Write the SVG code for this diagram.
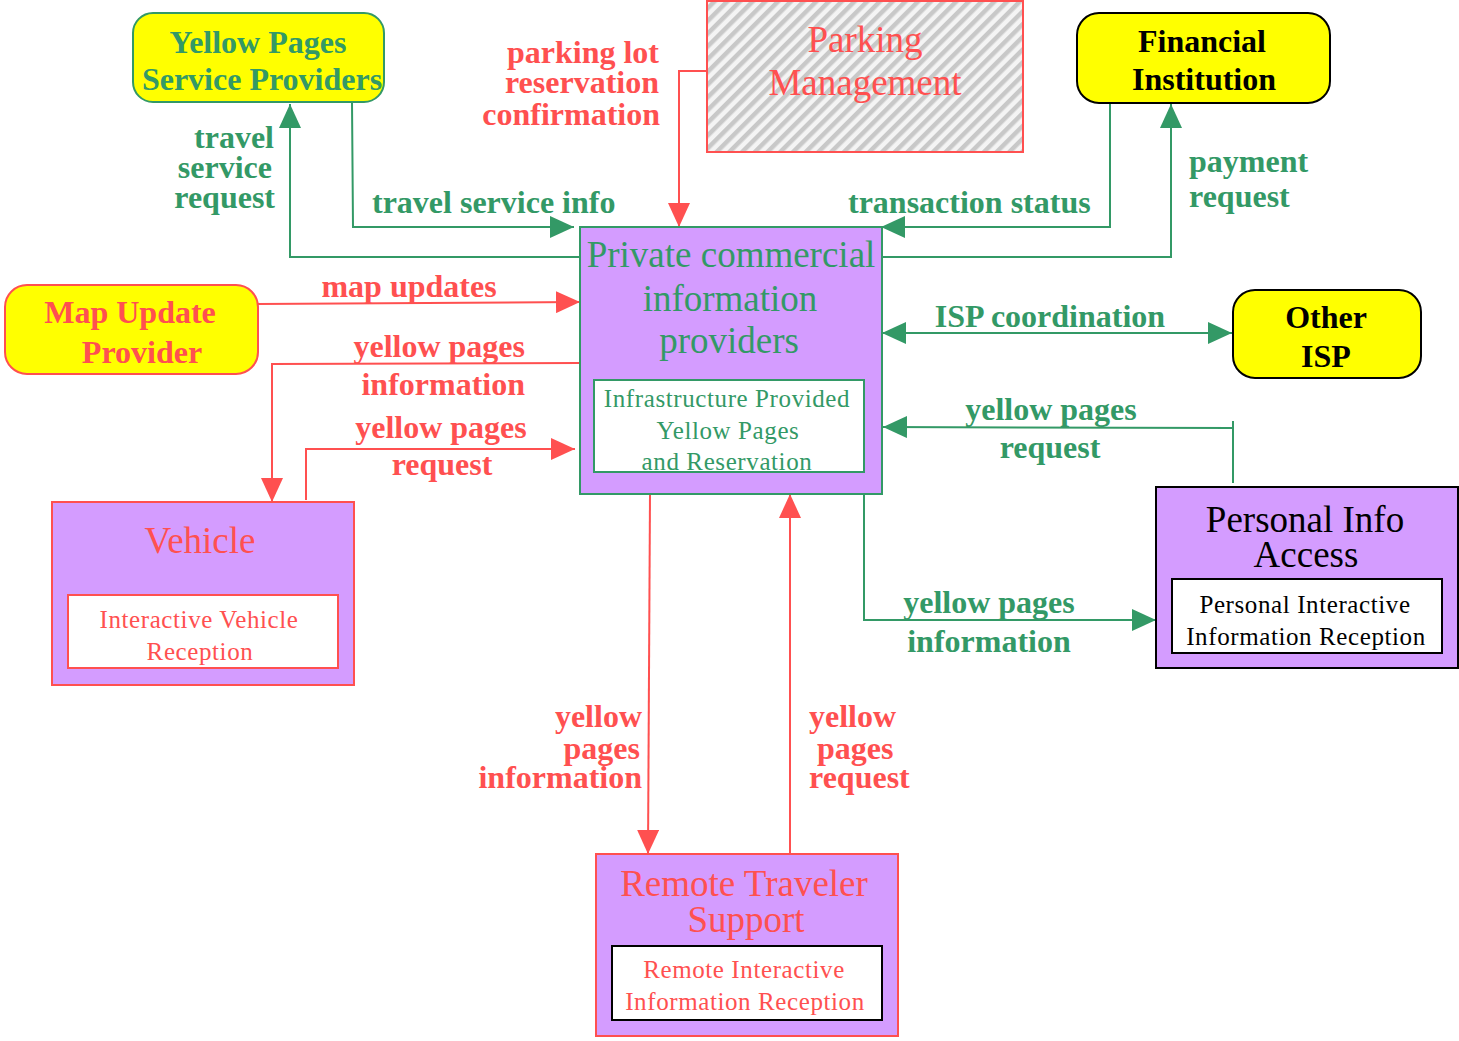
<svg xmlns="http://www.w3.org/2000/svg" width="1459" height="1041" viewBox="0 0 1459 1041">
<style>
.bg{fill:#ffffff}
.lbl{font-family:"Liberation Serif","Times New Roman",serif;font-weight:bold;font-size:32px}
.ttl{font-family:"Liberation Serif","Times New Roman",serif;font-size:37px}
.sub{font-family:"Liberation Serif","Times New Roman",serif;font-size:25px;letter-spacing:0.6px}
.g{fill:#339966}
.r{fill:#FF5050}
.k{fill:#000000}
.c{text-anchor:middle}
.e{text-anchor:end}
.term{fill:#FFFF00;stroke-width:2}
.sys{fill:#D49CFF;stroke-width:2}
.inner{fill:#ffffff;stroke-width:2}
.cg{fill:none;stroke:#339966;stroke-width:2}
.cr{fill:none;stroke:#FF5050;stroke-width:2}
</style>
<defs>
<marker id="ag" markerUnits="userSpaceOnUse" markerWidth="24" markerHeight="22" refX="24" refY="11" orient="auto-start-reverse" viewBox="0 0 24 22">
<path d="M0,0 L24,11 L0,22 z" fill="#339966"/>
</marker>
<marker id="ar" markerUnits="userSpaceOnUse" markerWidth="24" markerHeight="22" refX="24" refY="11" orient="auto" viewBox="0 0 24 22">
<path d="M0,0 L24,11 L0,22 z" fill="#FF5050"/>
</marker>
<pattern id="hatch" patternUnits="userSpaceOnUse" width="9" height="9" patternTransform="rotate(45)">
<rect width="9" height="9" fill="#F4F4F4"/>
<rect width="4.5" height="9" fill="#C8C8C8"/>
</pattern>
</defs>
<rect class="bg" x="0" y="0" width="1459" height="1041"/>

<g id="connectors">
<polyline class="cg" points="352,102 353,227 574,227" marker-end="url(#ag)"/>
<polyline class="cg" points="580,257 290,257 290,104" marker-end="url(#ag)"/>
<polyline class="cr" points="707,71 679,71 679,227" marker-end="url(#ar)"/>
<polyline class="cg" points="1110,103 1110,227 881,227" marker-end="url(#ag)"/>
<polyline class="cg" points="882,257 1171,257 1171,104" marker-end="url(#ag)"/>
<polyline class="cr" points="258,304 580,302" marker-end="url(#ar)"/>
<polyline class="cr" points="580,363 272,364 272,502" marker-end="url(#ar)"/>
<polyline class="cr" points="306,500 306,449 575,449" marker-end="url(#ar)"/>
<polyline class="cg" points="882,333 1232,333" marker-start="url(#ag)" marker-end="url(#ag)"/>
<polyline class="cg" points="1233,421 1233,483"/>
<polyline class="cg" points="1233,428 883,427" marker-end="url(#ag)"/>
<polyline class="cg" points="864,494 864,620 1156,620" marker-end="url(#ag)"/>
<polyline class="cr" points="650,494 648,854" marker-end="url(#ar)"/>
<polyline class="cr" points="790,854 790,494" marker-end="url(#ar)"/>
</g>

<g id="labels">
<text class="lbl r e" x="659" y="63">parking lot</text>
<text class="lbl r e" x="659" y="93">reservation</text>
<text class="lbl r e" x="660" y="125">confirmation</text>
<text class="lbl g e" x="274" y="148">travel</text>
<text class="lbl g e" x="272" y="178">service</text>
<text class="lbl g e" x="275" y="208">request</text>
<text class="lbl g" x="372" y="213">travel service info</text>
<text class="lbl g" x="848" y="213">transaction status</text>
<text class="lbl g" x="1189" y="172">payment</text>
<text class="lbl g" x="1189" y="207">request</text>
<text class="lbl r c" x="409" y="297">map updates</text>
<text class="lbl r e" x="525" y="357">yellow pages</text>
<text class="lbl r e" x="525" y="395">information</text>
<text class="lbl r c" x="441" y="438">yellow pages</text>
<text class="lbl r c" x="442" y="475">request</text>
<text class="lbl g c" x="1050" y="327">ISP coordination</text>
<text class="lbl g c" x="1051" y="420">yellow pages</text>
<text class="lbl g c" x="1050" y="458">request</text>
<text class="lbl g c" x="989" y="613">yellow pages</text>
<text class="lbl g c" x="989" y="652">information</text>
<text class="lbl r e" x="642" y="727">yellow</text>
<text class="lbl r e" x="640" y="759">pages</text>
<text class="lbl r e" x="642" y="788">information</text>
<text class="lbl r" x="809" y="727">yellow</text>
<text class="lbl r" x="817" y="759">pages</text>
<text class="lbl r" x="809" y="788">request</text>
</g>

<g id="yellow-pages-service-providers">
<rect class="term" x="133" y="13" width="251" height="89" rx="20" ry="20" stroke="#339966"/>
<text class="lbl g c" x="258" y="53">Yellow Pages</text>
<text class="lbl g c" x="262" y="90">Service Providers</text>
</g>

<g id="parking-management">
<rect x="707" y="1" width="316" height="151" fill="url(#hatch)" stroke="#FF5050" stroke-width="2"/>
<text class="ttl r c" x="865" y="52">Parking</text>
<text class="ttl r c" x="865" y="95">Management</text>
</g>

<g id="financial-institution">
<rect class="term" x="1077" y="13" width="253" height="90" rx="22" ry="22" stroke="#000000"/>
<text class="lbl k c" x="1202" y="52">Financial</text>
<text class="lbl k c" x="1204" y="90">Institution</text>
</g>

<g id="map-update-provider">
<rect class="term" x="5" y="285" width="253" height="89" rx="22" ry="22" stroke="#FF5050"/>
<text class="lbl r c" x="130" y="323">Map Update</text>
<text class="lbl r c" x="142" y="363">Provider</text>
</g>

<g id="other-isp">
<rect class="term" x="1233" y="290" width="188" height="88" rx="22" ry="22" stroke="#000000"/>
<text class="lbl k c" x="1326" y="328">Other</text>
<text class="lbl k c" x="1326" y="367">ISP</text>
</g>

<g id="private-commercial-information-providers">
<rect class="sys" x="580" y="227" width="302" height="267" stroke="#339966"/>
<text class="ttl g c" x="731" y="267">Private commercial</text>
<text class="ttl g c" x="730" y="311">information</text>
<text class="ttl g c" x="729" y="353">providers</text>
<rect class="inner" x="594" y="380" width="270" height="92" stroke="#339966"/>
<text class="sub g c" x="727" y="407">Infrastructure Provided</text>
<text class="sub g c" x="728" y="439">Yellow Pages</text>
<text class="sub g c" x="727" y="470">and Reservation</text>
</g>

<g id="vehicle">
<rect class="sys" x="52" y="502" width="302" height="183" stroke="#FF5050"/>
<text class="ttl r c" x="200" y="553">Vehicle</text>
<rect class="inner" x="68" y="595" width="270" height="73" stroke="#FF5050"/>
<text class="sub r c" x="199" y="628">Interactive Vehicle</text>
<text class="sub r c" x="200" y="660">Reception</text>
</g>

<g id="personal-info-access">
<rect class="sys" x="1156" y="487" width="302" height="181" stroke="#000000"/>
<text class="ttl k c" x="1305" y="532">Personal Info</text>
<text class="ttl k c" x="1306" y="567">Access</text>
<rect class="inner" x="1172" y="579" width="270" height="74" stroke="#000000"/>
<text class="sub k c" x="1305" y="613">Personal Interactive</text>
<text class="sub k c" x="1306" y="645">Information Reception</text>
</g>

<g id="remote-traveler-support">
<rect class="sys" x="596" y="854" width="302" height="182" stroke="#FF5050"/>
<text class="ttl r c" x="744" y="896">Remote Traveler</text>
<text class="ttl r c" x="746" y="932">Support</text>
<rect class="inner" x="612" y="946" width="270" height="74" stroke="#000000"/>
<text class="sub r c" x="744" y="978">Remote Interactive</text>
<text class="sub r c" x="745" y="1010">Information Reception</text>
</g>
</svg>
